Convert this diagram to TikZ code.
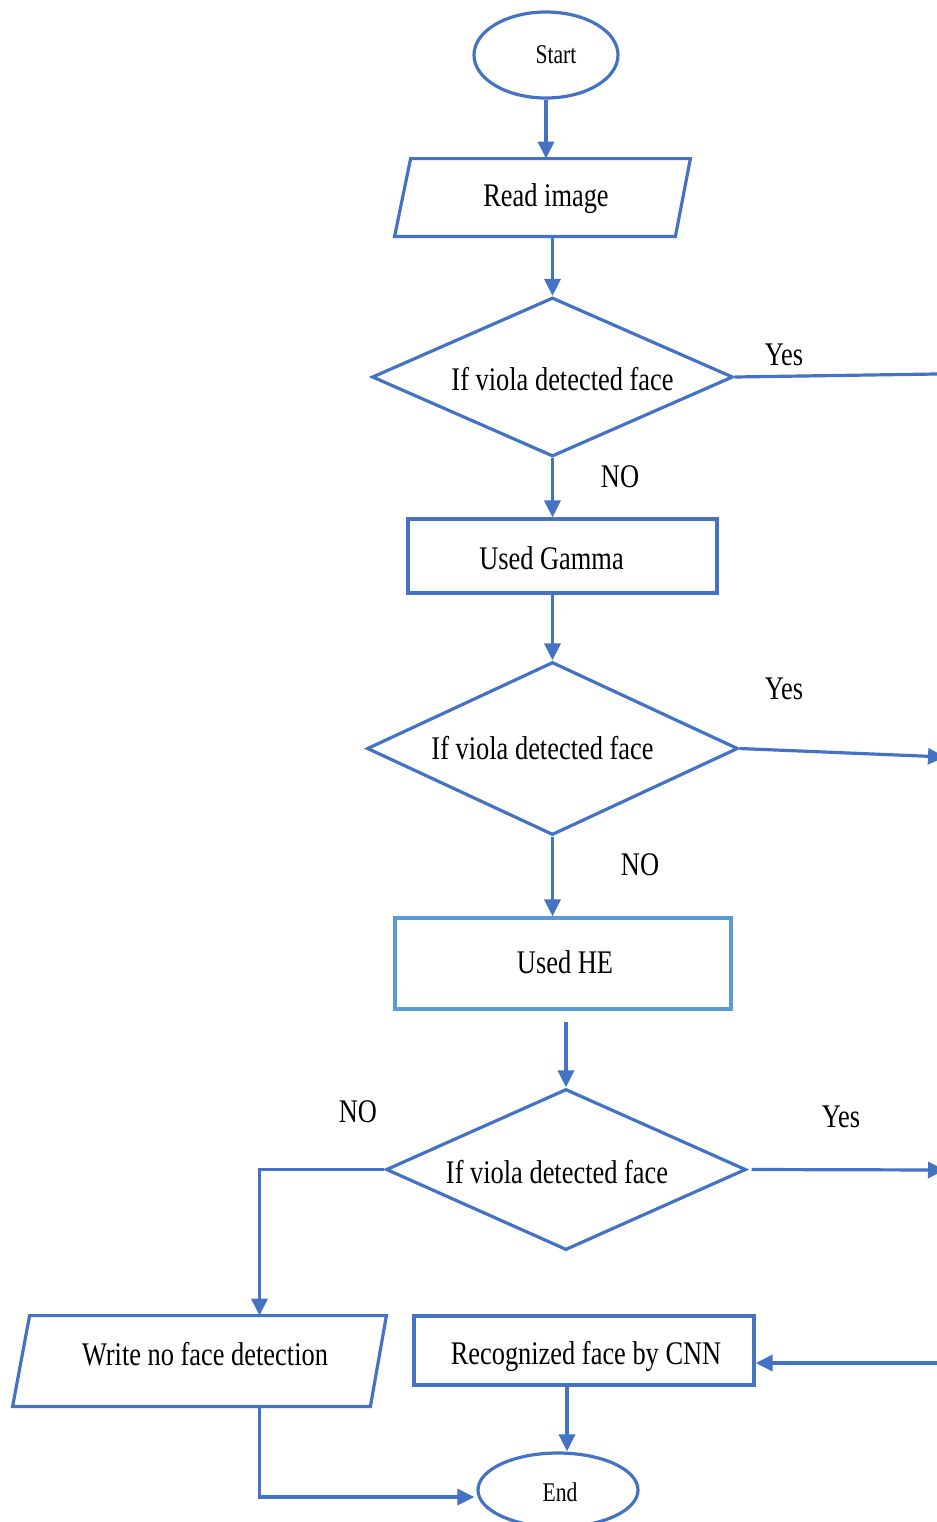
\documentclass[tikz,border=0pt]{standalone}
\usepackage{fontspec}
\usepackage{graphicx}
\setmainfont{Liberation Serif}
\usetikzlibrary{shapes.geometric,arrows.meta}
\definecolor{fblue}{HTML}{4472C4}
\definecolor{lblue}{HTML}{5B9BD5}
\newcommand{\cx}[1]{\scalebox{0.8}[1]{#1}}
\begin{document}
\begin{tikzpicture}[x=0.5pt,y=-0.5pt,
  every node/.style={font=\fontsize{16.5}{20}\selectfont, inner sep=0pt},
  smallfont/.style={font=\fontsize{13.5}{16}\selectfont},
  procbox/.style={draw=fblue, line width=1.6pt, rectangle},
  ioframe/.style={rectangle},
  outline/.style={draw=fblue, line width=1.6pt, line join=miter},
  dia/.style={draw=fblue, line width=1.6pt, diamond},
  term/.style={draw=fblue, line width=1.6pt, ellipse},
  conn/.style={draw=fblue, line width=1.6pt},
  arr/.style={conn, -{Triangle[length=8.5pt,width=8pt]}}
]
\useasboundingbox (0,0) rectangle (937,1522);

\node[term, minimum width=72pt, minimum height=43pt,
      label={[smallfont,xshift=5pt]center:\cx{Start}}] (start) at (546,55) {};
\node[ioframe, minimum width=147.5pt, minimum height=38.5pt,
      label={[xshift=1.75pt,yshift=-0.8pt]center:\cx{Read image}}] (read) at (542.5,197.5) {};
\draw[outline] ([xshift=8pt]read.north west) -- (read.north east)
   -- ([xshift=-7.5pt]read.south east) -- (read.south west) -- cycle;
\node[dia, aspect=2.27, minimum width=180.5pt, minimum height=79.5pt,
      label={[xshift=5pt,yshift=-1pt]center:\cx{If viola detected face}}] (d1) at (552.5,377) {};
\node[procbox, minimum width=154.5pt, minimum height=37pt,
      label={[xshift=-5.5pt,yshift=-1pt]center:\cx{Used Gamma}}] (gamma) at (562.5,556) {};
\node[dia, aspect=2.14, minimum width=185.5pt, minimum height=86.5pt,
      label={[xshift=-5pt]center:\cx{If viola detected face}}] (d2) at (552.5,748.5) {};
\node[procbox, draw=lblue, minimum width=168pt, minimum height=45.5pt,
      label={[xshift=1pt,yshift=0.5pt]center:\cx{Used HE}}] (he) at (563,963.5) {};
\node[dia, aspect=2.24, minimum width=180pt, minimum height=80.5pt,
      label={[xshift=-4.5pt,yshift=-1.5pt]center:\cx{If viola detected face}}] (d3) at (566,1169.5) {};
\node[ioframe, minimum width=186.5pt, minimum height=45pt,
      label={[xshift=2.75pt,yshift=3.5pt]center:\cx{Write no face detection}}] (write) at (199.5,1361) {};
\draw[outline] ([xshift=8.5pt]write.north west) -- (write.north east)
   -- ([xshift=-8pt]write.south east) -- (write.south west) -- cycle;
\node[procbox, minimum width=170pt, minimum height=34.5pt,
      label={[xshift=1pt,yshift=-2.75pt]center:\cx{Recognized face by CNN}}] (cnn) at (584,1350.5) {};
\node[term, minimum width=80pt, minimum height=37pt,
      label={[smallfont,xshift=1pt,yshift=-1pt]center:\cx{End}}] (end) at (558,1490) {};

\node (yes1) at (784,355) {\cx{Yes}};
\node (no1) at (620,477) {\cx{NO}};
\node (yes2) at (784,689) {\cx{Yes}};
\node (no2) at (640,865) {\cx{NO}};
\node (no3) at (358,1112) {\cx{NO}};
\node (yes3) at (841,1117) {\cx{Yes}};

\coordinate (r1) at (950,373.8);
\coordinate (r2) at (945,757);
\coordinate (r3) at (945,1170);
\coordinate (r4) at (950,1363);

\draw[arr] (start.south) -- (start.south |- read.north);
\draw[arr] (read.south -| d1.north) -- (d1.north);
\draw[conn] (d1.east) -- (r1);
\draw[arr] (d1.south) -- (d1.south |- gamma.north);
\draw[arr] (gamma.south -| d2.north) -- (d2.north);
\draw[arr] (d2.east) -- (r2);
\draw[arr] (d2.south) -- (d2.south |- he.north);
\draw[arr] ([yshift=-5.5pt]he.south -| d3.north) -- (d3.north);
\draw[arr] ([xshift=2pt]d3.east) -- (r3);
\draw[arr] (d3.west) -| ([xshift=30pt]write.north);
\draw[arr] (r4) -- (r4 -| cnn.east);
\draw[arr] ([xshift=-8.5pt]cnn.south) -- ([xshift=-8.5pt]cnn.south |- end.north);
\draw[arr] ([xshift=30pt]write.south) |- ([yshift=-3.5pt,xshift=-1pt]end.west);
\end{tikzpicture}
\end{document}
